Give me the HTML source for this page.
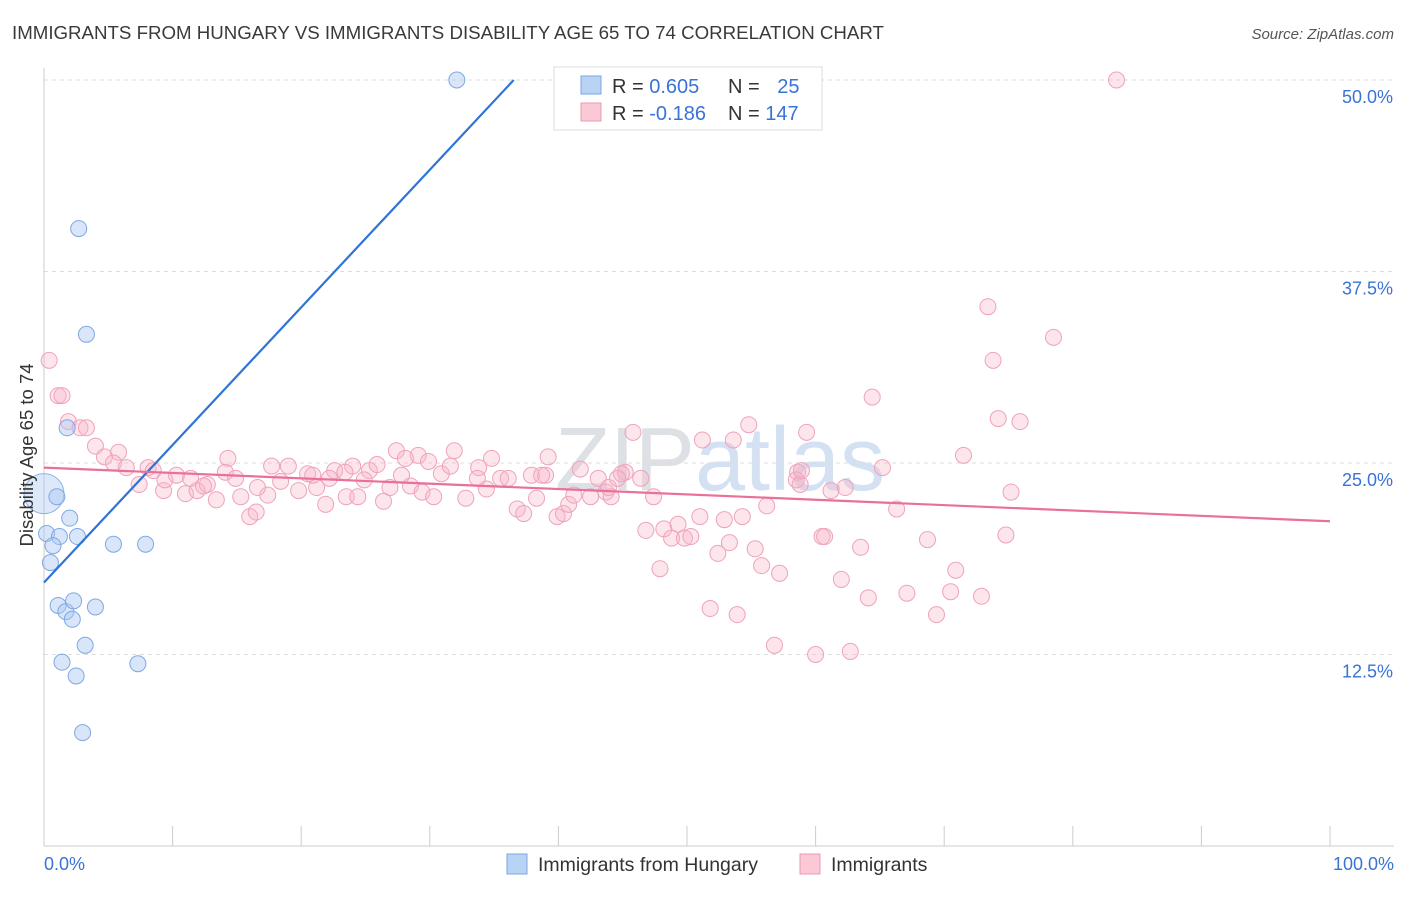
<!DOCTYPE html>
<html><head><meta charset="utf-8"><style>
body{margin:0;background:#fff;font-family:"Liberation Sans",sans-serif}
svg text{font-family:"Liberation Sans",sans-serif}
</style></head><body>
<svg id="chart" width="1406" height="892" xmlns="http://www.w3.org/2000/svg">
<text x="12" y="39" font-size="18.7" fill="#3a3a3a">IMMIGRANTS FROM HUNGARY VS IMMIGRANTS DISABILITY AGE 65 TO 74 CORRELATION CHART</text>
<text x="1394" y="39" font-size="15" fill="#555" text-anchor="end" font-style="italic">Source: ZipAtlas.com</text>
<text x="720" y="490" font-size="90" fill="#e4e8ee" text-anchor="middle" font-family="Liberation Serif,serif"><tspan fill="#dde0e4">ZIP</tspan><tspan fill="#d3e1f3" font-family="Liberation Sans,sans-serif">atlas</tspan></text>
<g id="grid"></g>
<g id="axes"></g>
<g id="pts"></g>
<g id="lines"></g>
<text transform="translate(33,455) rotate(-90)" font-size="18.5" fill="#333" text-anchor="middle">Disability Age 65 to 74</text>
<g>
<rect x="554" y="67" width="268" height="63" fill="#fff" stroke="#ddd"/>
<rect x="581" y="76" width="20" height="18" fill="#b9d3f5" stroke="#7ba7e4"/>
<rect x="581" y="103" width="20" height="18" fill="#fbc8d6" stroke="#eb9ab2"/>
<text x="612" y="93" font-size="20" fill="#333">R = <tspan fill="#3a73d6">0.605</tspan></text>
<text x="728" y="93" font-size="20" fill="#333">N = <tspan fill="#3a73d6" dx="12">25</tspan></text>
<text x="612" y="120" font-size="20" fill="#333">R = <tspan fill="#3a73d6">-0.186</tspan></text>
<text x="728" y="120" font-size="20" fill="#333">N = <tspan fill="#3a73d6">147</tspan></text>
</g>
<g>
<rect x="507" y="854" width="20" height="20" fill="#b9d3f5" stroke="#7ba7e4"/>
<text x="538" y="871" font-size="19.5" fill="#333">Immigrants from Hungary</text>
<rect x="800" y="854" width="20" height="20" fill="#fbc8d6" stroke="#eb9ab2"/>
<text x="831" y="871" font-size="19.5" fill="#333">Immigrants</text>
</g>
</svg>
<script>
const yTicks=[12.5,25,37.5,50];
const yTickLabels=["12.5%","25.0%","37.5%","50.0%"];
const xTickLabels=["0.0%","100.0%"];
const blueX=[32.1,2.7,3.3,1.8,1.0,2.0,0.2,1.2,2.6,0.7,5.4,7.9,0.5,1.1,1.7,2.3,4.0,2.2,3.2,1.4,7.3,2.5,3.0];
const blueY=[50.0,40.3,33.4,27.3,22.8,21.4,20.4,20.2,20.2,19.6,19.7,19.7,18.5,15.7,15.3,16.0,15.6,14.8,13.1,12.0,11.9,11.1,7.4];
const pinkX=[83.4,0.4,73.4,73.8,78.5,64.4,1.1,1.4,1.9,2.8,3.3,74.2,75.9,54.8,45.8,59.3,51.2,4.0,5.8,4.7,5.4,6.4,8.1,8.5,14.3,17.7,19.0,20.5,27.4,29.1,29.9,31.9,34.8,39.2,41.7,45.2,46.4,58.6,65.2,71.5,7.4,9.3,10.3,11.0,11.9,12.7,13.4,14.1,14.9,15.3,16.0,16.5,17.4,18.4,19.8,21.2,21.9,22.6,23.5,24.0,24.4,25.3,25.9,26.4,26.9,27.8,28.5,29.4,30.3,30.9,31.6,32.8,33.8,34.4,35.5,36.1,36.8,37.3,37.9,39.0,38.3,39.9,40.4,40.8,41.2,42.5,43.1,43.7,44.1,44.9,47.4,46.8,48.2,48.8,49.3,49.8,50.3,51.0,52.9,54.3,56.2,47.9,51.8,53.9,52.4,53.3,55.3,55.8,57.2,58.5,58.8,61.2,62.3,60.5,60.7,62.0,63.5,64.1,66.3,67.1,68.7,69.4,70.5,70.9,72.9,74.8,75.2,56.8,60.0,62.7,9.4,11.4,12.4,16.6,20.9,22.2,23.4,24.9,28.1,33.7,38.7,43.9,44.6,53.6,58.9];
const pinkY=[50.0,31.7,35.2,31.7,33.2,29.3,29.4,29.4,27.7,27.3,27.3,27.9,27.7,27.5,27.0,27.0,26.5,26.1,25.7,25.4,25.0,24.7,24.7,24.5,25.3,24.8,24.8,24.3,25.8,25.5,25.1,25.8,25.3,25.4,24.6,24.4,24.0,24.4,24.7,25.5,23.6,23.2,24.2,23.0,23.2,23.6,22.6,24.4,24.0,22.8,21.5,21.8,22.9,23.8,23.2,23.4,22.3,24.5,22.8,24.8,22.8,24.5,24.9,22.5,23.4,24.2,23.5,23.1,22.8,24.3,24.8,22.7,24.7,23.3,24.0,24.0,22.0,21.7,24.2,24.2,22.7,21.5,21.7,22.3,22.9,22.8,24.0,23.1,22.8,24.3,22.8,20.6,20.7,20.1,21.0,20.1,20.2,21.5,21.3,21.5,22.2,18.1,15.5,15.1,19.1,19.8,19.4,18.3,17.8,23.9,23.6,23.2,23.4,20.2,20.2,17.4,19.5,16.2,22.0,16.5,20.0,15.1,16.6,18.0,16.3,20.3,23.1,13.1,12.5,12.7,23.9,24.0,23.5,23.4,24.2,24.0,24.4,23.9,25.3,24.0,24.2,23.4,24.0,26.5,24.5];
const blueTrend=[17.2,0.898];
const pinkTrend=[24.7,-0.035];
const X=v=>44+v*12.86, Y=v=>846-v*15.32;
const NS="http://www.w3.org/2000/svg";
function mk(parent,tag,attrs){const e=document.createElementNS(NS,tag);for(const k in attrs)e.setAttribute(k,attrs[k]);document.getElementById(parent).appendChild(e);return e;}
yTicks.forEach((t,i)=>{
 const l=mk('grid','line',{x1:44,x2:1394,y1:Y(t),y2:Y(t),stroke:'#ddd','stroke-dasharray':'4,4'});
 
 
 const tx=mk('grid','text',{x:1393,y:Y(t)+23,'font-size':18,fill:'#3a73d6','text-anchor':'end'});
 tx.textContent=yTickLabels[i];
 
 
});
const ax=mk('axes','line',{x1:44,x2:44,y1:68,y2:846,stroke:'#ccc'});


const bx=mk('axes','line',{x1:44,x2:1394,y1:846,y2:846,stroke:'#ccc'});


for(let i=0;i<=10;i++){const t=mk('axes','line',{x1:X(i*10),x2:X(i*10),y1:826,y2:846,stroke:'#ccc'});
 
 }
[[0,'start',44],[100,'end',1394]].forEach((a,i)=>{const t=mk('axes','text',{x:a[2],y:870,'font-size':18,fill:'#3a73d6','text-anchor':a[1]});t.textContent=xTickLabels[i];
 
 });
pinkX.forEach((x,i)=>{const c=mk('pts','circle',{cx:X(x),cy:Y(pinkY[i]),r:8,fill:'rgba(248,180,200,0.35)',stroke:'#eea3bb','stroke-width':1});
 
 });
const big=mk('pts','circle',{cx:X(0),cy:Y(23.0),r:20,fill:'rgba(170,200,245,0.4)',stroke:'#8fb3e8'});


blueX.forEach((x,i)=>{const c=mk('pts','circle',{cx:X(x),cy:Y(blueY[i]),r:8,fill:'rgba(170,200,245,0.45)',stroke:'#7ea8e4','stroke-width':1});
 
 });
const bxEnd=(50-blueTrend[0])/blueTrend[1];
const bl=mk('lines','line',{x1:X(0),y1:Y(blueTrend[0]),x2:X(bxEnd),y2:Y(50),stroke:'#2f74d6','stroke-width':2.2});


const pl=mk('lines','line',{x1:X(0),y1:Y(pinkTrend[0]),x2:X(100),y2:Y(pinkTrend[0]+pinkTrend[1]*100),stroke:'#e8709a','stroke-width':2.2});


</script>
</body></html>
